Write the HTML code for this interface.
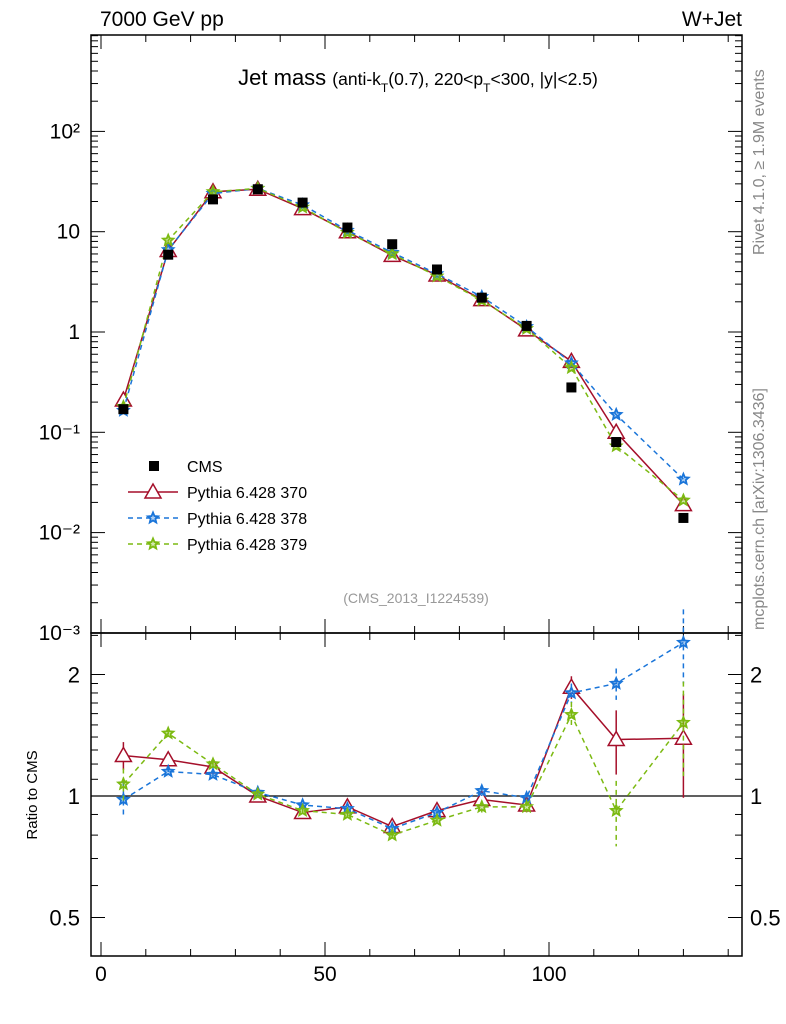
<!DOCTYPE html>
<html><head><meta charset="utf-8"><style>
body{margin:0;background:#fff;}
svg{display:block;font-family:"Liberation Sans",sans-serif;}
</style></head><body>
<svg id="c" width="786" height="1024" xmlns="http://www.w3.org/2000/svg">
<text x="100" y="26" font-size="21">7000 GeV pp</text>
<text x="742" y="26" font-size="21" text-anchor="end">W+Jet</text>
<text x="418" y="85" font-size="22" text-anchor="middle">Jet mass <tspan font-size="17.5">(anti-k<tspan baseline-shift="sub" font-size="12">T</tspan>(0.7), 220&lt;p<tspan baseline-shift="sub" font-size="12">T</tspan>&lt;300, |y|&lt;2.5)</tspan></text>
<text transform="translate(764,255) rotate(-90)" font-size="16" fill="#888">Rivet 4.1.0, ≥ 1.9M events</text>
<text transform="translate(764,630) rotate(-90)" font-size="16" fill="#888">mcplots.cern.ch [arXiv:1306.3436]</text>
<text x="416" y="603" font-size="14" fill="#999" text-anchor="middle">(CMS_2013_I1224539)</text>
<text transform="translate(37,795) rotate(-90)" font-size="15" text-anchor="middle">Ratio to CMS</text>
<g id="g"></g>
</svg>
<script>
const xs=[5,15,25,35,45,55,65,75,85,95,105,115,130];
const cms=[0.17,5.9,21,26.5,19.5,11,7.5,4.2,2.2,1.15,0.28,0.08,0.014];
const p370=[0.21,6.5,25,26.5,17,10,5.8,3.7,2.1,1.05,0.51,0.10,0.019];
const p378=[0.165,6.6,24,27,18.5,10.3,6.2,3.8,2.25,1.13,0.49,0.15,0.034];
const p379=[0.18,8.2,25,27,17.5,9.8,6.0,3.6,2.07,1.08,0.44,0.073,0.021];
const r370=[1.26,1.23,1.18,1.0,0.91,0.94,0.84,0.92,0.98,0.95,1.86,1.38,1.39];
const r378=[0.98,1.15,1.13,1.02,0.95,0.93,0.83,0.91,1.03,0.99,1.8,1.9,2.4];
const r379=[1.07,1.43,1.2,1.01,0.92,0.9,0.8,0.87,0.94,0.94,1.59,0.92,1.52];
const e370=[0.1,0.03,0.02,0.01,0.01,0.01,0.01,0.01,0.02,0.03,0.12,0.25,0.4];
const e378=[0.1,0.03,0.02,0.01,0.01,0.01,0.01,0.01,0.03,0.03,0.1,0.17,0.5];
const e379=[0.1,0.03,0.02,0.01,0.01,0.01,0.01,0.01,0.03,0.03,0.12,0.17,0.4];
const xTicks=[0,50,100];
const mainTicks=[[2,"10²"],[1,"10"],[0,"1"],[-1,"10⁻¹"],[-2,"10⁻²"],[-3,"10⁻³"]];
const ratioTicks=[[2,"2"],[1,"1"],[0.5,"0.5"]];

const L=91,R=742,T=35,M=633,B=956;
const X=v=>101+v*4.48;
const Y=v=>332-Math.log10(v)*100.3;
const YR=v=>796-Math.log2(v)*121.5;
const g=document.getElementById('g');
const NS="http://www.w3.org/2000/svg";
function el(t,a,p){const e=document.createElementNS(NS,t);for(const k in a)e.setAttribute(k,a[k]);(p||g).appendChild(e);return e;}

let f=el('rect',{x:L,y:T,width:R-L,height:M-T,fill:'none',stroke:'#000','stroke-width':1.5});


f=el('rect',{x:L,y:M,width:R-L,height:B-M,fill:'none',stroke:'#000','stroke-width':1.5});



for(let v=0;v<=140;v+=10){
  const big=v%50==0, len=big?14:7;
  for(const [y0,y1] of [[T,M],[M,B]]){
    el('line',{x1:X(v),x2:X(v),y1:y1,y2:y1-len,stroke:'#000'});
    el('line',{x1:X(v),x2:X(v),y1:y0,y2:y0+len,stroke:'#000'});
  }
}
xTicks.forEach(v=>{const t=el('text',{x:X(v),y:981,'font-size':21,'text-anchor':'middle'});t.textContent=v;

});

for(let d=-3;d<3;d++){for(let m=1;m<10;m++){const y=Y(Math.pow(10,d)*m);if(y<T||y>M)continue;const len=m==1?14:7;
el('line',{x1:L,x2:L+len,y1:y,y2:y,stroke:'#000'});el('line',{x1:R,x2:R-len,y1:y,y2:y,stroke:'#000'});}}
mainTicks.forEach(([d,s])=>{const t=el('text',{x:80,y:Y(Math.pow(10,d))+7,'font-size':21,'text-anchor':'end'});t.textContent=s;

});

[0.4,0.5,0.6,0.7,0.8,0.9,1,1.1,1.2,1.3,1.4,1.5,1.6,1.7,1.8,1.9,2,2.5].forEach(v=>{const y=YR(v);if(y<M||y>B)return;const len=[0.5,1,2].includes(v)?14:7;
el('line',{x1:L,x2:L+len,y1:y,y2:y,stroke:'#000'});el('line',{x1:R,x2:R-len,y1:y,y2:y,stroke:'#000'});});
ratioTicks.forEach(([v,s])=>{let t=el('text',{x:80,y:YR(v)+8,'font-size':22,'text-anchor':'end'});t.textContent=s;


t=el('text',{x:750,y:YR(v)+8,'font-size':22});t.textContent=s;

});
el('line',{x1:L,x2:R,y1:YR(1),y2:YR(1),stroke:'#000','stroke-width':1.2});

function star(x,y,c,r){let p='';for(let i=0;i<10;i++){const a=-Math.PI/2+i*Math.PI/5,rr=i%2?r*0.45:r;p+=(x+rr*Math.cos(a))+','+(y+rr*Math.sin(a))+' ';}
return el('polygon',{points:p,fill:c,'fill-opacity':0.35,stroke:c,'stroke-width':1.8});}
function tri(x,y,c){return el('polygon',{points:`${x},${y-8} ${x-8},${y+6} ${x+8},${y+6}`,fill:'#fff',stroke:c,'stroke-width':1.5});}

const series=[[p370,r370,e370,'#a50f2a','','tri','pythia-370'],[p378,r378,e378,'#1a75d9','5,4','star','pythia-378'],[p379,r379,e379,'#7cba12','5,4','star','pythia-379']];
series.forEach(([v,r,e,c,d,m,n])=>{
  let l=el('polyline',{points:xs.map((x,i)=>X(x)+','+Y(v[i])).join(' '),fill:'none',stroke:c,'stroke-width':1.5,'stroke-dasharray':d});
  
  
  l=el('polyline',{points:xs.map((x,i)=>X(x)+','+YR(r[i])).join(' '),fill:'none',stroke:c,'stroke-width':1.5,'stroke-dasharray':d});
  
  
  xs.forEach((x,i)=>{
    el('line',{x1:X(x),x2:X(x),y1:YR(r[i]+e[i]),y2:YR(Math.max(r[i]-e[i],0.3)),stroke:c,'stroke-width':1.5,'stroke-dasharray':d});
    const mk=m=='tri'?tri(X(x),Y(v[i]),c):star(X(x),Y(v[i]),c,5.5);
    
    
    const mr=m=='tri'?tri(X(x),YR(r[i]),c):star(X(x),YR(r[i]),c,5.5);
    
    
  });
});
xs.forEach((x,i)=>{const s=el('rect',{x:X(x)-5,y:Y(cms[i])-5,width:10,height:10,fill:'#000'});

});

const lg=el('g',{});


el('rect',{x:149,y:461,width:10,height:10,fill:'#000'},lg);
const names=['CMS','Pythia 6.428 370','Pythia 6.428 378','Pythia 6.428 379'];
names.forEach((s,i)=>{const t=el('text',{x:187,y:472+i*26,'font-size':16},lg);t.textContent=s;

});
series.forEach(([v,r,e,c,d,m],i)=>{const y=492+i*26;el('line',{x1:128,x2:178,y1:y,y2:y,stroke:c,'stroke-width':1.5,'stroke-dasharray':d},lg);
if(m=='tri'){const t=tri(153,y,c);lg.appendChild(t);}else{const s=star(153,y,c,5.5);lg.appendChild(s);}});
</script>
</body></html>
